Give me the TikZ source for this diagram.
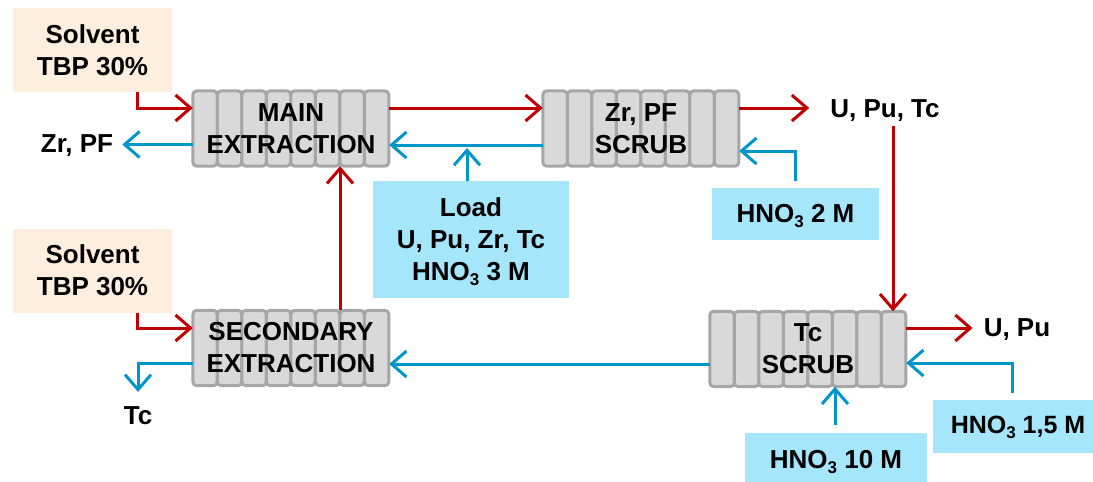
\documentclass[tikz,border=0pt]{standalone}
\usepackage{fontspec}
\setmainfont{Liberation Sans}
\usetikzlibrary{arrows.meta,backgrounds,calc}
\definecolor{flowred}{RGB}{192,0,0}
\definecolor{flowblue}{RGB}{0,150,204}
\definecolor{feedblue}{RGB}{166,230,251}
\definecolor{solvpeach}{RGB}{253,238,222}
\definecolor{cellfill}{RGB}{217,217,217}
\definecolor{cellline}{RGB}{166,166,166}
\newcommand\mysub[1]{\smash{\raisebox{-5pt}{\fontsize{17}{17}\selectfont #1}}}
\newcommand\drawcols[1]{%
  \begin{scope}[on background layer]
    \foreach \i in {0,...,7}{%
      \draw[cell] ([xshift=\i*24.5pt]#1.north west) rectangle ([xshift=\i*24.5pt+24.5pt]#1.south west);}
  \end{scope}}
\tikzset{
  cell/.style={fill=cellfill, draw=cellline, line width=3pt, rounded corners=4pt},
  unit/.style={minimum width=196pt, minimum height=75pt, inner sep=0pt, align=center},
  solv/.style={fill=solvpeach, minimum width=159pt, minimum height=84pt, inner sep=0pt, align=center},
  feed/.style={fill=feedblue, inner sep=0pt, align=center},
  lbl/.style={inner sep=0pt, anchor=base},
  flowr/.style={draw=flowred, line width=3pt, -{Straight Barb[length=15pt,width=26pt]}},
  flowb/.style={draw=flowblue, line width=3pt, -{Straight Barb[length=15pt,width=26pt]}},
}
\begin{document}
\begin{tikzpicture}[x=1pt, y=-1pt, font=\bfseries\fontsize{26}{32}\selectfont]
\useasboundingbox (0,0) rectangle (1093,482);

% solvent feeds
\node[solv] (solv1) at (92.5,50) {Solvent\\TBP 30\%};
\node[solv] (solv2) at (92.5,270.5) {Solvent\\TBP 30\%};

% contactor units
\node[unit] (main) at (291,128.5) {MAIN\\EXTRACTION};
\node[unit] (zrs) at (641,128.5) {Zr, PF\\SCRUB};
\node[unit] (tcs) at (808,349) {Tc\\SCRUB};
\node[unit] (sec) at (291,348) {SECONDARY\\EXTRACTION};
\drawcols{main}
\drawcols{zrs}
\drawcols{tcs}
\drawcols{sec}

% aqueous feeds
\node[feed, minimum width=196pt, minimum height=117pt] (load) at (471,239.5) {Load\\U, Pu, Zr, Tc\\HNO\mysub{3} 3 M};
\node[feed, minimum width=167pt, minimum height=52pt] (hno2) at (795.5,214) {HNO\mysub{3} 2 M};
\node[feed, minimum width=170pt, minimum height=53pt, font=\bfseries\fontsize{25}{30}\selectfont] (hno15) at (1018,426.5) {HNO\mysub{3} 1,5 M};
\node[feed, minimum width=182pt, minimum height=54pt] (hno10) at (836,460) {HNO\mysub{3} 10 M};

% product labels
\node[lbl] (zrpf) at (77,152) {Zr, PF};
\node[lbl] (uputc) at (885,117) {U, Pu, Tc};
\node[lbl] (upu) at (1017,336) {U, Pu};
\node[lbl] (tclbl) at (138,424) {Tc};

\coordinate (loadin) at (467,148);

% organic (red) flows
\draw[flowr] ([xshift=44.5pt]solv1.south) |- ([yshift=20.5pt]main.west);
\draw[flowr] ([yshift=20.5pt]main.east) -- ([yshift=20.5pt]zrs.west);
\draw[flowr, shorten >=21pt] ([yshift=20.5pt]zrs.east) -- ([yshift=20.5pt]zrs.east -| uputc.west);
\draw[flowr, shorten <=5pt] ([xshift=8pt]uputc.south) -- ([xshift=8pt]uputc.south |- tcs.north);
\draw[flowr, shorten >=11pt] ([yshift=21pt]tcs.east) -- ([yshift=21pt]tcs.east -| upu.west);
\draw[flowr] ([xshift=44.5pt]solv2.south) |- ([yshift=20pt]sec.west);
\draw[flowr] ([xshift=49pt]sec.north) -- ([xshift=49pt]sec.north |- main.south);

% aqueous (blue) flows
\draw[flowb, shorten >=9pt] ([yshift=-16pt]main.west) -- ([yshift=-16pt]main.west -| zrpf.east);
\draw[flowb] ([yshift=-16.5pt]zrs.west) -- ([yshift=-16.5pt]main.east);
\draw[flowb] (load.north -| loadin) -- (loadin);
\draw[flowb, shorten <=7pt] (hno2.north) |- ([yshift=-22.5pt]zrs.east);
\draw[flowb, shorten <=7pt] ([xshift=-6pt]hno15.north) |- ([yshift=-14pt]tcs.east);
\draw[flowb, shorten <=8pt] ([xshift=-1pt]hno10.north) -- ([xshift=-1pt]hno10.north |- tcs.south);
\draw[flowb] ([yshift=-15pt]tcs.west) -- ([yshift=-15pt]tcs.west -| sec.east);
\draw[flowb, shorten >=14pt] ([yshift=-15pt]sec.west) -| (tclbl.north);
\end{tikzpicture}
\end{document}
